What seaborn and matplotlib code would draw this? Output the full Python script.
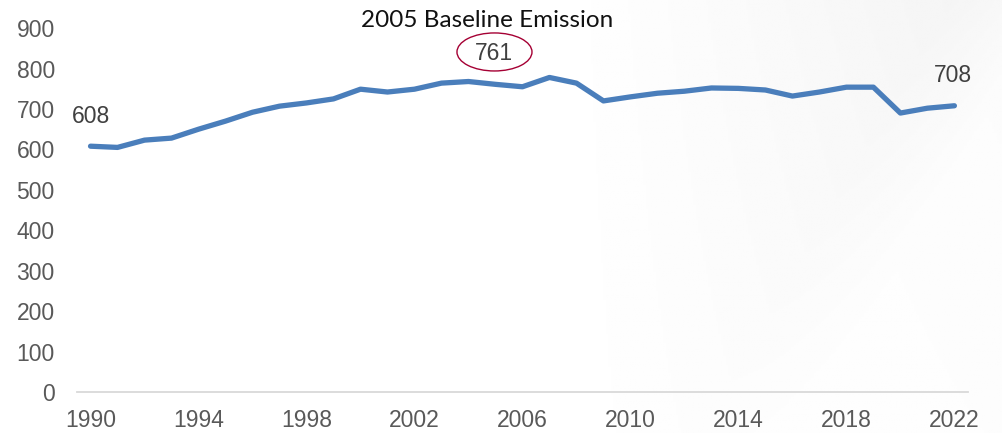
import numpy as np
import pandas as pd
import matplotlib
matplotlib.use("Agg")
import matplotlib.pyplot as plt
from matplotlib.patches import Ellipse
import seaborn as sns

years = list(range(1990, 2023))
emissions = [608, 605, 623, 628, 650, 670, 692, 707, 715, 725,
             749, 742, 749, 764, 768, 761, 755, 778, 764, 720,
             730, 739, 744, 752, 751, 747, 732, 742, 754, 754,
             690, 702, 708]
xtick_years = [1990, 1994, 1998, 2002, 2006, 2010, 2014, 2018, 2022]
ytick_values = list(range(0, 1000, 100))
baseline_year = 2005
title_text = "2005 Baseline Emission"

df = pd.DataFrame({"year": years, "emissions": emissions})

sns.set_theme(style="white")
plt.rcParams["font.family"] = ["Liberation Sans", "DejaVu Sans"]

fig = plt.figure(figsize=(10.03, 4.33), dpi=100)
fig.patch.set_facecolor("white")

# soft grey sheen in the right-hand corner of the canvas
bg = fig.add_axes([0, 0, 1, 1], zorder=-10)
gx, gy = np.meshgrid(np.linspace(0, 1, 400), np.linspace(0, 1, 200))
sheen = np.clip((gx - 0.55) / 0.45, 0, 1) * np.clip(0.6 + 0.4 * gy, 0, 1)
sheen = sheen * (1 - 0.7 * np.clip((gx + (1 - gy) * 0.25 - 0.95) / 0.1, 0, 1))
bg.imshow(1 - 0.045 * sheen, cmap="gray", vmin=0, vmax=1, aspect="auto",
          extent=[0, 1, 0, 1], origin="lower")
bg.axis("off")

ax = fig.add_axes([0.0768, 0.0947, 0.8882, 0.8403])
ax.patch.set_alpha(0)

sns.lineplot(data=df, x="year", y="emissions", ax=ax, color="#4a7ebb",
             linewidth=3.8, solid_capstyle="round", solid_joinstyle="round")

ax.set_xlim(1989.5, 2022.5)
ax.set_ylim(0, 900)
ax.set_xticks(xtick_years)
ax.set_yticks(ytick_values)
ax.set_xlabel("")
ax.set_ylabel("")
ax.tick_params(axis="both", labelsize=16.5, labelcolor="#595959", length=0)
ax.tick_params(axis="y", pad=16)
ax.tick_params(axis="x", pad=12)
for side in ["top", "right", "left"]:
    ax.spines[side].set_visible(False)
ax.spines["bottom"].set_color("#d9d9d9")
ax.spines["bottom"].set_linewidth(1.3)

# value labels for first, baseline and latest years
first_val = emissions[0]
last_val = emissions[-1]
base_val = emissions[years.index(baseline_year)]
label_kw = dict(ha="center", va="baseline", fontsize=16.5, color="#404040",
                annotation_clip=False)
ax.annotate(f"{first_val}", (years[0], first_val),
            xytext=(years[0], 665), textcoords="data", **label_kw)
ax.annotate(f"{last_val}", (years[-1], last_val),
            xytext=(years[-1] - 0.05, 767), textcoords="data", **label_kw)
ax.annotate(f"{base_val}", (baseline_year, base_val),
            xytext=(baseline_year - 0.07, 821), textcoords="data", **label_kw)

# oval around the baseline value
ell = Ellipse((0.493, 0.880), width=0.0748, height=0.0878,
              transform=fig.transFigure, fill=False,
              edgecolor="#a50034", linewidth=1.0)
fig.add_artist(ell)

fig.text(0.486, 0.9376, title_text, ha="center", va="baseline",
         fontsize=17.5, color="#111111", family=["Lato", "DejaVu Sans"])

fig.savefig("out.png", dpi=100)
